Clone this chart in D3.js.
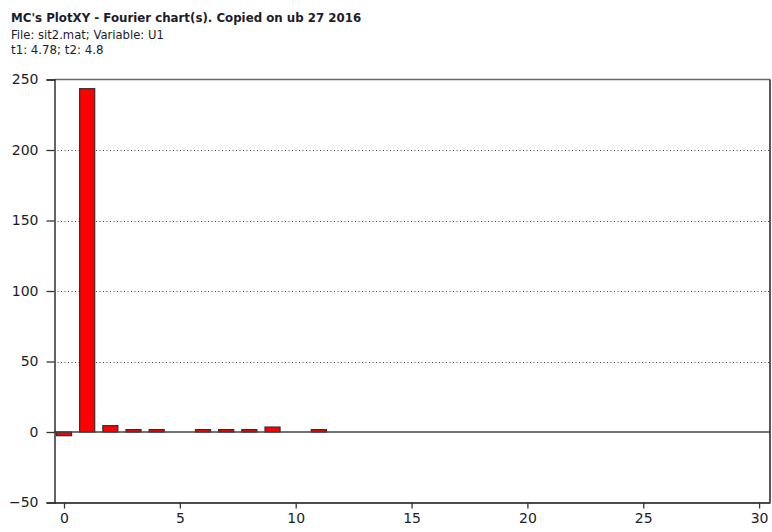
<!DOCTYPE html>
<html>
<head>
<meta charset="utf-8">
<script src="https://cdn.jsdelivr.net/npm/d3@7"></script>
<style>
  html, body { margin: 0; padding: 0; background: #fff; }
  svg { display: block; }
  text { font-family: "DejaVu Sans", Verdana, sans-serif; fill: #1c1c2a; }
</style>
</head>
<body>
<svg id="chart" width="772" height="532"></svg>
<script>
// Fourier spectrum: harmonic order and amplitude
const harmonics = [0, 1, 2, 3, 4, 5, 6, 7, 8, 9, 10, 11];
const amplitudes = [-2.6, 243.5, 4.5, 1.7, 1.7, 0, 1.7, 1.7, 1.7, 3.5, 0, 1.7];
const xTicks = [0, 5, 10, 15, 20, 25, 30];
const yTicks = [-50, 0, 50, 100, 150, 200, 250];
const gridValues = [50, 100, 150, 200];
const headerLines = [
  "MC's PlotXY - Fourier chart(s). Copied on ub 27 2016",
  "File: sit2.mat; Variable: U1",
  "t1: 4.78; t2: 4.8"
];

const svg = d3.select("#chart");
const plotLeft = 54.5, plotRight = 770, plotTop = 79.5, plotBottom = 502.5;

const x = d3.scaleLinear().domain([-0.41, 30.47]).range([plotLeft, plotRight]);
const y = d3.scaleLinear().domain([-50, 250]).range([plotBottom, plotTop]);
const barW = 0.65;

// header
svg.append("text").attr("x", 11).attr("y", 22)
  .style("font-weight", "bold").style("font-size", "11.8px")
  .text(headerLines[0]);
svg.append("text").attr("x", 11).attr("y", 39)
  .style("font-size", "11.6px").text(headerLines[1]);
svg.append("text").attr("x", 11).attr("y", 54)
  .style("font-size", "11.8px").text(headerLines[2]);

// dotted grid
svg.append("g").selectAll("line").data(gridValues).join("line")
  .attr("x1", plotLeft + 3).attr("x2", plotRight)
  .attr("y1", d => Math.round(y(d)) + 0.5).attr("y2", d => Math.round(y(d)) + 0.5)
  .attr("stroke", "#444").attr("stroke-width", 1)
  .attr("stroke-dasharray", "1,2.5");

// top border
svg.append("line")
  .attr("x1", plotLeft).attr("x2", plotRight)
  .attr("y1", plotTop).attr("y2", plotTop)
  .attr("stroke", "#6a6a6a").attr("stroke-width", 1.5);

// bars
svg.append("g").selectAll("rect")
  .data(harmonics.map((h, i) => ({ h, v: amplitudes[i] })).filter(d => d.v !== 0))
  .join("rect")
  .attr("x", d => x(d.h - barW / 2))
  .attr("width", d => x(d.h + barW / 2) - x(d.h - barW / 2))
  .attr("y", d => y(Math.max(0, d.v)))
  .attr("height", d => Math.abs(y(d.v) - y(0)))
  .attr("fill", "#ff0000")
  .attr("stroke", "#3a2a2a").attr("stroke-width", 1.2);

// zero line
svg.append("line")
  .attr("x1", plotLeft).attr("x2", plotRight)
  .attr("y1", y(0)).attr("y2", y(0))
  .attr("stroke", "#444").attr("stroke-width", 1.3);

// right border
svg.append("line")
  .attr("x1", plotRight).attr("x2", plotRight)
  .attr("y1", plotTop).attr("y2", plotBottom)
  .attr("stroke", "#222").attr("stroke-width", 1.5);

// y axis
const yAxis = d3.axisLeft(y).tickValues(yTicks).tickSize(8).tickPadding(8).tickFormat(d3.format("d"));
const gy = svg.append("g").attr("transform", `translate(${plotLeft},0)`).call(yAxis);
gy.select(".domain").attr("stroke", "#111").attr("stroke-width", 1.3);
gy.selectAll(".tick line").attr("stroke", "#333").attr("stroke-width", 1.3);
gy.selectAll(".tick text").style("font-size", "14px").style("font-family", "DejaVu Sans, sans-serif").attr("fill", "#1c1c2a");

// x axis
const xAxis = d3.axisBottom(x).tickValues(xTicks).tickSize(6).tickPadding(5).tickSizeOuter(0);
const gx = svg.append("g").attr("transform", `translate(0,${plotBottom})`).call(xAxis);
gx.select(".domain").attr("stroke", "#111").attr("stroke-width", 1.3);
gx.selectAll(".tick line").attr("stroke", "#333").attr("stroke-width", 1.3);
gx.selectAll(".tick text").style("font-size", "14px").style("font-family", "DejaVu Sans, sans-serif").attr("fill", "#1c1c2a");
</script>
</body>
</html>
